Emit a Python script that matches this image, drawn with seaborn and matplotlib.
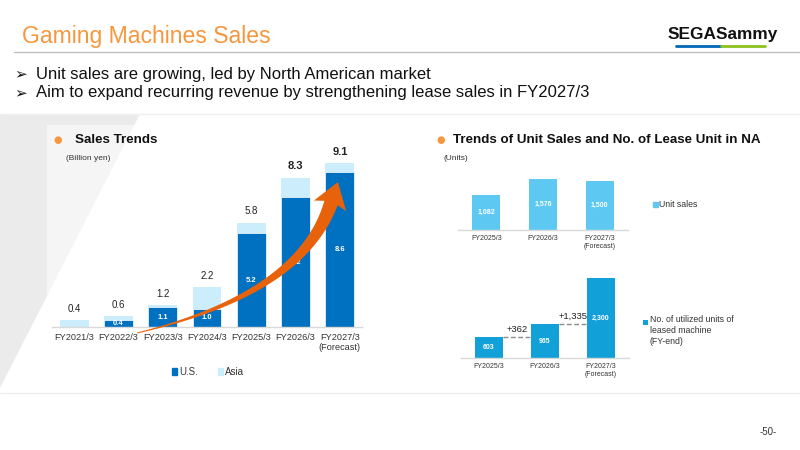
import numpy as np
import matplotlib.pyplot as plt
import seaborn as sns
from matplotlib.patches import Polygon, Rectangle, Patch
from matplotlib.lines import Line2D

# ---- data ----
years = ['FY2021/3', 'FY2022/3', 'FY2023/3', 'FY2024/3', 'FY2025/3', 'FY2026/3', 'FY2027/3\n(Forecast)']
sales_us = [0.0, 0.4, 1.1, 1.0, 5.2, 7.2, 8.6]
sales_total = [0.4, 0.6, 1.2, 2.2, 5.8, 8.3, 9.1]

na_years = ['FY2025/3', 'FY2026/3', 'FY2027/3\n(Forecast)']
unit_sales = [1082, 1576, 1500]
lease_units = [603, 965, 2300]
lease_increase = ['+362', '+1,335']

W, H = 800, 450
US_C = '#0070C0'
ASIA_C = '#CCEDFB'
UNIT_C = '#5DC9F2'
LEASE_C = '#12A0D8'
ORANGE = '#F7963C'
TXT = '#333333'


def px_axes(fig, x0, y0, x1, y1):
    '''axes placed by pixel box (top-left origin)'''
    ax = fig.add_axes([x0 / W, 1 - y1 / H, (x1 - x0) / W, (y1 - y0) / H])
    ax.patch.set_alpha(0)
    return ax


def fx(x):
    return x / W


def fy(y):
    return 1 - y / H


def style_axes(ax, labelsize, pad):
    sns.despine(ax=ax, left=True)
    ax.spines['bottom'].set_color('#D9D9D9')
    ax.spines['bottom'].set_linewidth(1)
    ax.set_yticks([])
    ax.set_xlabel('')
    ax.set_ylabel('')
    ax.tick_params(axis='x', length=0, labelsize=labelsize, pad=pad, colors=TXT)


sns.set_theme(style='white')
plt.rcParams['font.family'] = ['Liberation Sans', 'DejaVu Sans']

fig = plt.figure(figsize=(8, 4.5), dpi=100)

# ---- slide background ----
fig.add_artist(Polygon([(fx(0), fy(114)), (fx(140), fy(114)), (fx(0), fy(388))],
                       closed=True, color='#EBEBEB', lw=0, zorder=-3, transform=fig.transFigure))
fig.add_artist(Rectangle((fx(47), fy(393)), fx(400) - fx(47), fy(125) - fy(393),
                         color='white', alpha=0.55, lw=0, zorder=-2, transform=fig.transFigure))
for yy in (114, 393):
    fig.add_artist(Line2D([0, 1], [fy(yy), fy(yy)], color='#EFEFEF', lw=1, zorder=-1))
fig.add_artist(Line2D([fx(14), 1], [fy(52), fy(52)], color='#BFBFBF', lw=1))

fig.text(fx(22), fy(37), 'Gaming Machines Sales', color=ORANGE, fontsize=16.6, va='center')
fig.text(fx(668), fy(35), 'SEGASammy', fontsize=12.4, fontweight='heavy', color='#111111', va='center')
fig.add_artist(Line2D([fx(676), fx(721)], [fy(45.5), fy(45.5)], color='#0068B7', lw=2))
fig.add_artist(Line2D([fx(721), fx(765)], [fy(45.5), fy(45.5)], color='#8DC21F', lw=2))

for yy, s in [(74, 'Unit sales are growing, led by North American market'),
              (93, 'Aim to expand recurring revenue by strengthening lease sales in FY2027/3')]:
    fig.text(fx(14), fy(yy), '\u27a2', fontsize=11, va='center', color='#111111', family=['DejaVu Sans'])
    fig.text(fx(36), fy(yy), s, fontsize=12, va='center', color='#111111')

fig.text(fx(768), fy(432), '-50-', fontsize=7, ha='center', va='center', color=TXT)

# section headings
fig.text(fx(58), fy(140), '\u25cf', color=ORANGE, fontsize=7, ha='center', va='center', family=['DejaVu Sans'])
fig.text(fx(75), fy(140), 'Sales Trends', fontsize=9.6, fontweight='bold', va='center', color='#111111')
fig.text(fx(66), fy(158), '(Billion yen)', fontsize=6, va='center', color=TXT)
fig.text(fx(441), fy(140), '\u25cf', color=ORANGE, fontsize=7, ha='center', va='center', family=['DejaVu Sans'])
fig.text(fx(453), fy(140), 'Trends of Unit Sales and No. of Lease Unit in NA', fontsize=9.6,
         fontweight='bold', va='center', color='#111111')
fig.text(fx(443), fy(158), '(Units)', fontsize=6, va='center', color=TXT)

# ---- left: stacked sales trend ----
ax = px_axes(fig, 52, 150, 362, 327)
sns.barplot(x=years, y=sales_total, color=ASIA_C, saturation=1, width=0.65, linewidth=0, ax=ax)
sns.barplot(x=years, y=sales_us, color=US_C, saturation=1, width=0.65, edgecolor='white',
            linewidth=0.5, ax=ax)
ax.set_xlim(-0.5, len(years) - 0.5)
ax.set_ylim(0, 9.83)
style_axes(ax, 6.6, 4)
for i, (tot, us) in enumerate(zip(sales_total, sales_us)):
    big = tot > 8
    ax.annotate(f'{tot:.1f}', (i, tot), xytext=(0, 4.5), textcoords='offset points', ha='center',
                va='bottom', fontsize=8 if big else 7, fontweight='bold' if big else 'normal', color='#222222')
    if us > 0:
        ax.text(i, us / 2, f'{us:.1f}', ha='center', va='center', color='white', fontsize=5.5,
                fontweight='bold')

fig.legend(handles=[Patch(color=US_C, label='U.S.'), Patch(color=ASIA_C, label='Asia')],
           loc='center', bbox_to_anchor=(fx(208), fy(372)), ncol=2, frameon=False, fontsize=7,
           handlelength=0.6, handleheight=0.6, handletextpad=0.2, columnspacing=2.0, labelcolor=TXT)

# growth arrow drawn over the bars
P0 = np.array([137.0, 333.0])
P1 = np.array([301.0, 294.0])
P2 = np.array([331.0, 203.0])
t = np.linspace(0, 1, 80)[:, None]
pts = (1 - t) ** 2 * P0 + 2 * (1 - t) * t * P1 + t ** 2 * P2
d = 2 * (1 - t) * (P1 - P0) + 2 * t * (P2 - P1)
d /= np.linalg.norm(d, axis=1, keepdims=True)
n = np.column_stack([d[:, 1], -d[:, 0]])
hw = 0.5 + 6.5 * t[:, 0] ** 1.2
side_a = pts + n * hw[:, None]
side_b = pts - n * hw[:, None]
de, ne = d[-1], n[-1]
tip = P2 + de * 22
c_a = P2 + ne * 17 - de * 3
c_b = P2 - ne * 17 - de * 3
outline = np.vstack([side_a, c_a, tip, c_b, side_b[::-1]])
fig.add_artist(Polygon(np.column_stack([outline[:, 0] / W, 1 - outline[:, 1] / H]), closed=True,
                       color='#E8620C', lw=0, zorder=10, transform=fig.transFigure))

# ---- right top: unit sales ----
ax2 = px_axes(fig, 458, 170, 628, 230)
sns.barplot(x=na_years, y=unit_sales, color=UNIT_C, saturation=1, width=0.49, linewidth=0, ax=ax2)
ax2.set_xlim(-0.5, 2.5)
ax2.set_ylim(0, 1855)
style_axes(ax2, 5, 3.5)
for i, v in enumerate(unit_sales):
    ax2.text(i, v / 2, f'{v:,}', ha='center', va='center', color='white', fontsize=5, fontweight='bold')
fig.legend(handles=[Patch(color=UNIT_C, label='Unit sales')], loc='center left',
           bbox_to_anchor=(fx(645), fy(205)), frameon=False, fontsize=6.3, handlelength=0.6,
           handleheight=0.6, handletextpad=0.1, labelcolor=TXT)

# ---- right bottom: leased units ----
ax3 = px_axes(fig, 461, 270, 629, 358)
sns.barplot(x=na_years, y=lease_units, color=LEASE_C, saturation=1, width=0.5, linewidth=0, ax=ax3)
ax3.set_xlim(-0.5, 2.5)
ax3.set_ylim(0, 2530)
style_axes(ax3, 5, 3.5)
for i, v in enumerate(lease_units):
    ax3.text(i, v / 2, f'{v:,}', ha='center', va='center', color='white', fontsize=5, fontweight='bold')
for i, lab in enumerate(lease_increase):
    yv = lease_units[i]
    ax3.plot([i + 0.25, i + 0.75], [yv, yv], color='#8C8C8C', lw=1, ls=(0, (3.5, 1.8)))
    ax3.annotate(lab, (i + 0.5, yv), xytext=(0, 2.5), textcoords='offset points', ha='center',
                 va='bottom', fontsize=6.8, color='#222222')

fig.add_artist(Rectangle((fx(643), fy(325)), 5 / W, 5 / H, color=LEASE_C, lw=0,
                         transform=fig.transFigure))
fig.text(fx(650), fy(315.5), 'No. of utilized units of\nleased machine\n(FY-end)', fontsize=6.3,
         va='top', ha='left', color=TXT, linespacing=1.25)

fig.savefig('out.png', dpi=100)
